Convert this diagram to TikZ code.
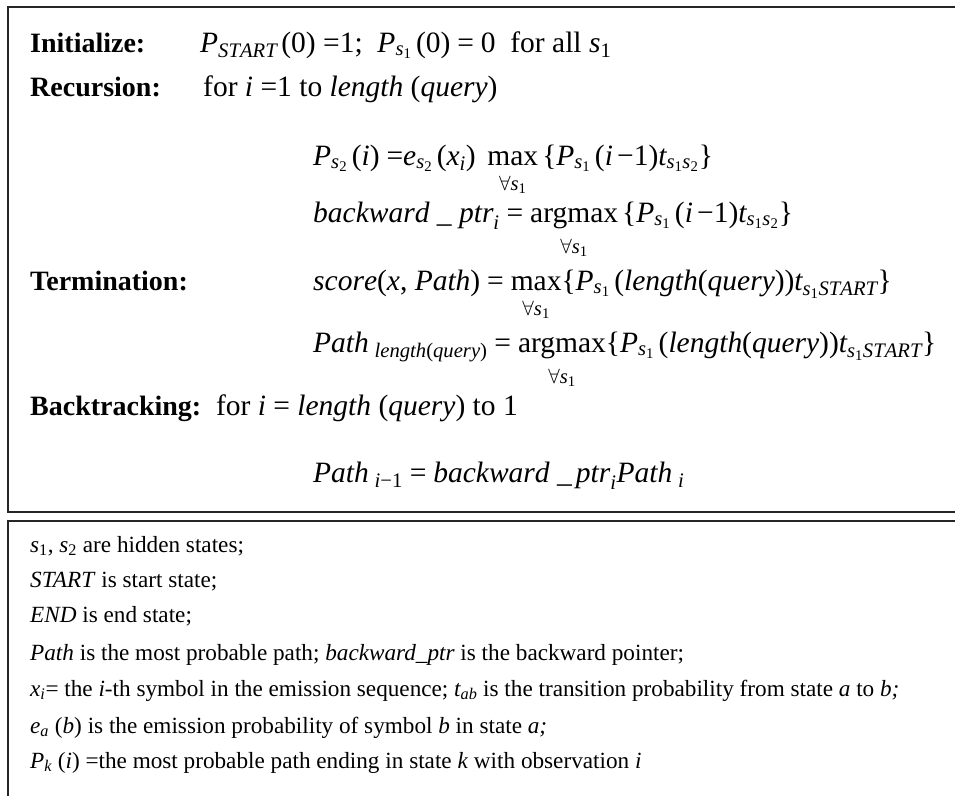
\documentclass[tikz,border=0pt]{standalone}
\usepackage{amsmath}
\usepackage{fontspec}
\setmainfont{Liberation Serif}
\newcommand\I[1]{\mathit{#1}}
\newcommand\T[1]{\text{#1}}
\newcommand\Eq{\mathrel{\text{=}}}
\newcommand\us{\text{\_}}
\newcommand\lb{\mathopen{\text{\{}}}
\newcommand\rb{\mathclose{\text{\}}}}
\newcommand\op[1]{\mathop{\text{#1}}}
\newcommand\under[1]{\lower10pt\hbox{$\scriptstyle #1$}}
\begin{document}
\begin{tikzpicture}[x=1pt,y=-1pt,
  frame/.style={line width=1.8pt,draw=black!85},
  lbl/.style={anchor=base west,inner sep=0pt,font=\fontsize{28}{34}\selectfont\bfseries},
  big/.style={anchor=base west,inner sep=0pt,font=\fontsize{29.5}{35}\selectfont},
  note/.style={anchor=base west,inner sep=0pt,font=\fontsize{23.2}{28}\selectfont}]
\useasboundingbox (0,0) rectangle (955,795);
\fill[white] (0,0) rectangle (955,795);
% frames
\draw[frame] (960,7) -- (8,7) -- (8,512) -- (960,512);
\draw[frame] (960,521) -- (8,521) -- (8,800);
% top box
\node[lbl] (init) at (30,52) {Initialize:};
\node[big] (initeq) at (200,52) {$\I{P}_{\I{START}}\,\T{(0) =1;}\ \ \I{P}_{\I{s}_{\T{1}}}\,\T{(0)}\Eq\T{0}$\ \ for all $\I{s}_{\T{1}}$};
\node[lbl] (rec) at (30,96) {Recursion:};
\node[big] (receq) at (203,96) {for \textit{i} =1 to \textit{length} (\textit{query})};
\node[big] (eq1) at (313,165) {$\displaystyle \I{P}_{\I{s}_{\T{2}}}\,\T{(}\I{i}\T{)}\;\T{=}\I{e}_{\I{s}_{\T{2}}}\,\T{(}\I{x}_{\I{i}}\T{)}\ \op{max}\limits_{\under{\forall \I{s}_{\T{1}}}}\,\lb\I{P}_{\I{s}_{\T{1}}}\,\T{(}\I{i}\,\T{−}\T{1)}\I{t}_{\I{s}_{\T{1}}\I{s}_{\T{2}}}\rb$};
\node[big] (eq2) at (313,222) {$\displaystyle \I{backward}\ \us\ \I{ptr}_{\I{i}}\Eq\op{argmax}\limits_{\under{\forall \I{s}_{\T{1}}}}\,\lb\I{P}_{\I{s}_{\T{1}}}\,\T{(}\I{i}\,\T{−}\T{1)}\I{t}_{\I{s}_{\T{1}}\I{s}_{\T{2}}}\rb$};
\node[lbl] (term) at (30,290) {Termination:};
\node[big] (eq3) at (313,290) {$\displaystyle \I{score}\T{(}\I{x}\T{, }\I{Path}\T{)}\Eq\op{max}\limits_{\under{\forall \I{s}_{\T{1}}}}\lb\I{P}_{\I{s}_{\T{1}}}\,\T{(}\I{length}\T{(}\I{query}\T{))}\I{t}_{\I{s}_{\T{1}}\I{START}}\rb$};
\node[big] (eq4) at (313,352) {$\displaystyle \I{Path}_{\;\I{length}\T{(}\I{query}\T{)}}\Eq\op{argmax}\limits_{\under{\forall \I{s}_{\T{1}}}}\lb\I{P}_{\I{s}_{\T{1}}}\,\T{(}\I{length}\T{(}\I{query}\T{))}\I{t}_{\I{s}_{\T{1}}\I{START}}\rb$};
\node[big] (back) at (30,415) {\textbf{\fontsize{28}{34}\selectfont Backtracking:}\ \ for \textit{i} = \textit{length} (\textit{query}) to 1};
\node[big] (eq5) at (313,482) {$\displaystyle \I{Path}_{\;\I{i}\T{−1}}\Eq\I{backward}\ \us\,\I{ptr}_{\I{i}}\I{Path}_{\;\I{i}}$};
% bottom box
\node[note] (n1) at (30,552) {$\I{s}_{\T{1}}$, $\I{s}_{\T{2}}$ are hidden states;};
\node[note] (n2) at (30,587) {\textit{START} is start state;};
\node[note] (n3) at (30,622) {\textit{END} is end state;};
\node[note] (n4) at (30,660) {\textit{Path} is the most probable path; \textit{backward\_ptr} is the backward pointer;};
\node[note] (n5) at (30,696) {$\I{x}_{\I{i}}$= the \textit{i}-th symbol in the emission sequence; $\I{t}_{\I{ab}}$ is the transition probability from state \textit{a} to \textit{b;}};
\node[note] (n6) at (30,733) {$\I{e}_{\I{a}}$ (\textit{b}) is the emission probability of symbol \textit{b} in state \textit{a;}};
\node[note] (n7) at (30,768) {$\I{P}_{\I{k}}$ (\textit{i}) =the most probable path ending in state \textit{k} with observation \textit{i}};
\end{tikzpicture}
\end{document}
